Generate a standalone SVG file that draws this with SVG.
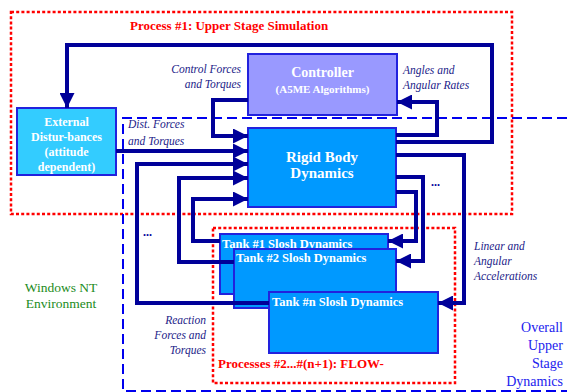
<svg xmlns="http://www.w3.org/2000/svg" width="567" height="392" viewBox="0 0 567 392">
<style>
text{font-family:"Liberation Serif","Times New Roman",Times,"DejaVu Serif","Noto Serif",serif}
.red{fill:none;stroke:#FF0000;stroke-width:2.5;stroke-dasharray:3 2.2}
.bd{fill:none;stroke:#0000EE;stroke-width:2;stroke-dasharray:10 5}
.c{fill:none;stroke:#000099;stroke-width:4;stroke-linejoin:miter}
.n{stroke:#2222DD;stroke-width:2}
.wt{font-weight:bold;fill:#FFFFFF}
.lb{font-style:italic;font-size:11.5px;fill:#222288}
.rt{font-weight:bold;font-size:13px;fill:#FF0000}
</style>
<defs>
<marker id="ah" markerUnits="userSpaceOnUse" markerWidth="15" markerHeight="15" refX="15" refY="7.5" orient="auto">
<path d="M0,0 L15,7.5 L0,15 Z" fill="#000099"/>
</marker>
<clipPath id="cx"><rect x="17" y="108" width="99" height="67"/></clipPath>
</defs>
<rect width="567" height="392" fill="#FFFFFF"/>
<g id="process1">
<rect class="red" x="11" y="12" width="501" height="202"/>
<text class="rt" x="130" y="30">Process #1: Upper Stage Simulation</text>
</g>
<g id="process2">
<rect class="red" x="213" y="228" width="242" height="155"/>
<text class="rt" x="218" y="368">Processes #2...#(n+1): FLOW-</text>
</g>
<g id="overall">
<path class="bd" d="M567,118 L123,118 L123,391 L567,391"/>
<text font-size="14" fill="#2222EE" text-anchor="end"><tspan x="563" y="332">Overall</tspan><tspan x="563" y="350">Upper</tspan><tspan x="563" y="368">Stage</tspan><tspan x="563" y="386">Dynamics</tspan></text>
</g>
<g id="windows">
<text font-size="13.5" fill="#228B22" text-anchor="middle"><tspan x="61" y="292">Windows NT</tspan><tspan x="61" y="308">Environment</tspan></text>
</g>
<g id="external">
<rect class="n" x="17" y="108" width="99" height="67" fill="#33CCFF"/>
<g clip-path="url(#cx)"><text class="wt" font-size="12" text-anchor="middle"><tspan x="66.5" y="126">External</tspan><tspan x="66.5" y="141">Distur-bances</tspan><tspan x="66.5" y="156">(attitude</tspan><tspan x="66.5" y="171">dependent)</tspan></text></g>
</g>
<g id="controller">
<rect class="n" x="248" y="54" width="149" height="61" fill="#9999FF"/>
<text class="wt" font-size="14" text-anchor="middle" x="322.5" y="77">Controller</text>
<text class="wt" font-size="11" text-anchor="middle" x="322.5" y="93">(A5ME Algorithms)</text>
</g>
<g id="rigid">
<rect class="n" x="248" y="128" width="148" height="79" fill="#0099FF"/>
<text class="wt" font-size="15" text-anchor="middle"><tspan x="322" y="162">Rigid Body</tspan><tspan x="322" y="178">Dynamics</tspan></text>
</g>
<g id="tank1">
<rect class="n" x="220" y="234" width="168" height="60" fill="#0099FF"/>
<text class="wt" font-size="12.5" x="222" y="248">Tank #1 Slosh Dynamics</text>
</g>
<g id="tank2">
<rect class="n" x="234" y="249" width="162" height="59" fill="#0099FF"/>
<text class="wt" font-size="12.5" x="236" y="262">Tank #2 Slosh Dynamics</text>
</g>
<g id="tankn">
<rect class="n" x="269" y="292" width="169" height="61" fill="#0099FF"/>
<text class="wt" font-size="12.5" x="272" y="306">Tank #n Slosh Dynamics</text>
</g>
<g id="connectors">
<path class="c" marker-end="url(#ah)" d="M396,142 L492,142 L492,45 L67,45 L67,108"/>
<path class="c" marker-end="url(#ah)" d="M396,135 L437,135 L437,102 L397,102"/>
<path class="c" marker-end="url(#ah)" d="M248,100 L213,100 L213,136 L248,136"/>
<path class="c" marker-end="url(#ah)" d="M116,151 L248,151"/>
<path class="c" marker-end="url(#ah)" d="M269,303 L137,303 L137,164 L248,164"/>
<path class="c" marker-end="url(#ah)" d="M234,262 L179,262 L179,178 L248,178"/>
<path class="c" marker-end="url(#ah)" d="M220,241 L193,241 L193,199 L248,199"/>
<path class="c" marker-end="url(#ah)" d="M396,155 L464,155 L464,303 L438,303"/>
<path class="c" marker-end="url(#ah)" d="M396,177 L423,177 L423,261 L396,261"/>
<path class="c" marker-end="url(#ah)" d="M396,192 L416,192 L416,241 L388,241"/>
<text font-weight="bold" font-size="12" fill="#000099" x="431" y="186">...</text>
<text font-weight="bold" font-size="12" fill="#000099" x="143" y="236">...</text>
</g>
<g id="labels">
<text class="lb" text-anchor="end"><tspan x="241" y="73">Control Forces</tspan><tspan x="241" y="88">and Torques</tspan></text>
<text class="lb"><tspan x="403" y="74">Angles and</tspan><tspan x="403" y="89">Angular Rates</tspan></text>
<text class="lb"><tspan x="128" y="128">Dist. Forces</tspan><tspan x="128" y="145">and Torques</tspan></text>
<text class="lb"><tspan x="474" y="250">Linear and</tspan><tspan x="474" y="265">Angular</tspan><tspan x="474" y="280">Accelerations</tspan></text>
<text class="lb" text-anchor="end"><tspan x="206" y="324">Reaction</tspan><tspan x="206" y="339">Forces and</tspan><tspan x="206" y="354">Torques</tspan></text>
</g>
</svg>
